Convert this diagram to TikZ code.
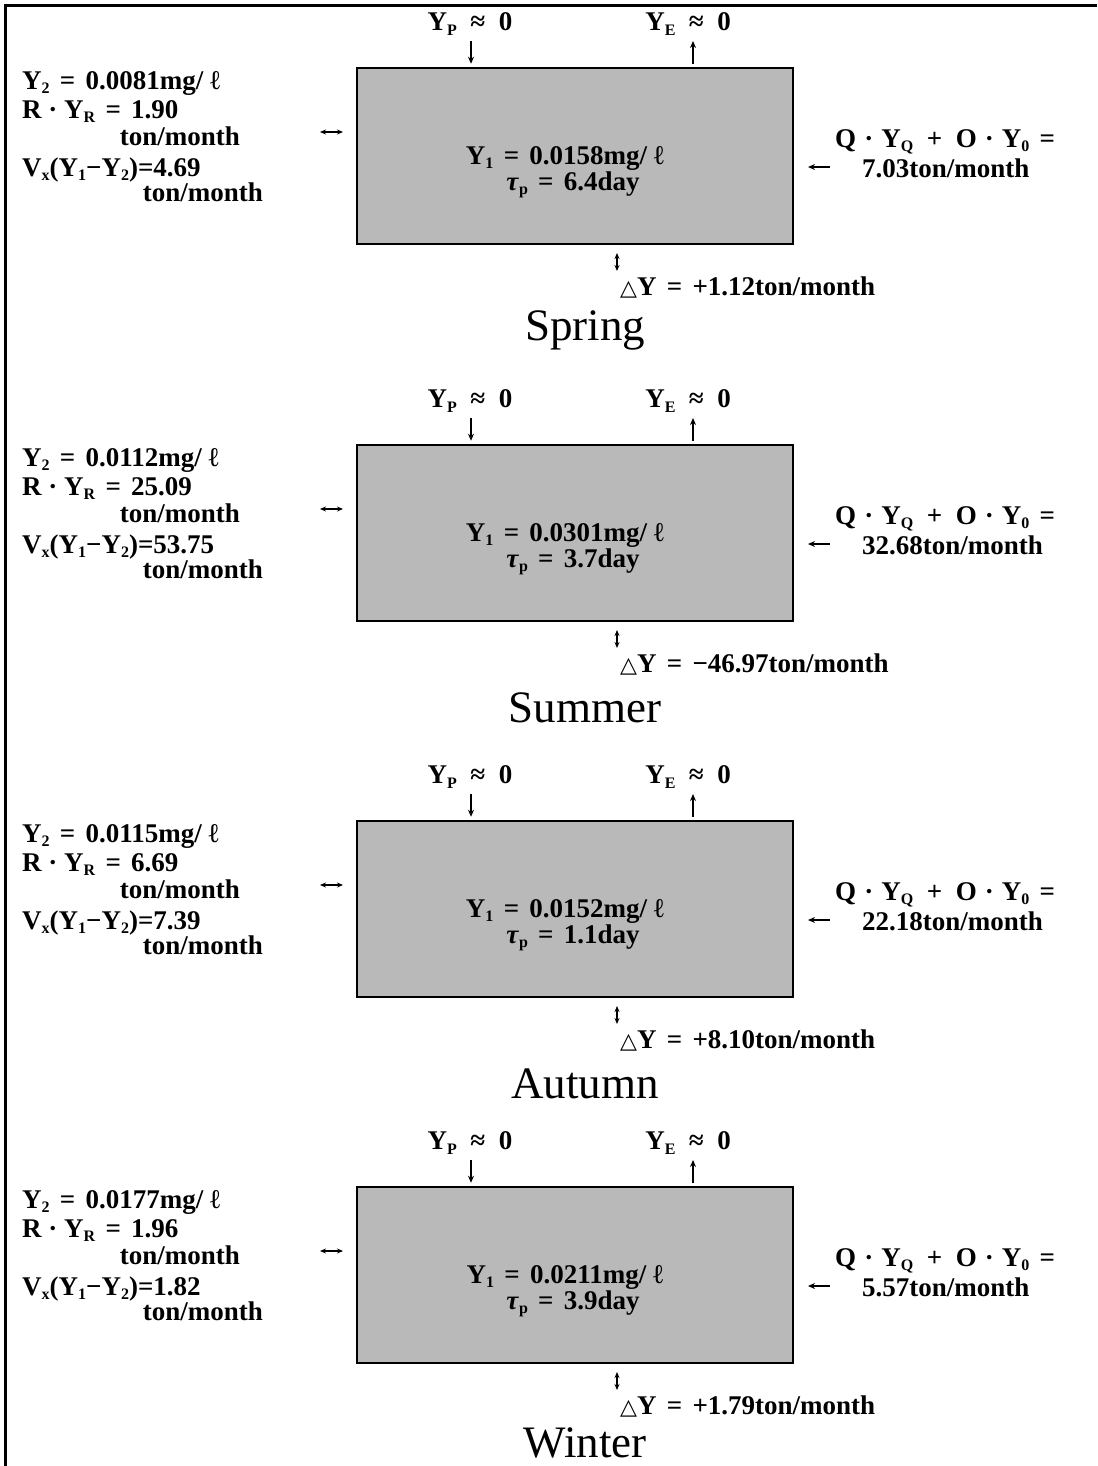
\documentclass[tikz,border=0pt]{standalone}
\usepackage{fontspec}
\setmainfont{Liberation Serif}
\newfontfamily\symf{DejaVu Sans}
\usetikzlibrary{arrows.meta}
\newcommand\sbs[1]{\raisebox{-0.15em}{\fontsize{16}{16}\selectfont #1}}
\newcommand\eqs{\hspace{0.38em}=\hspace{0.38em}}
\newcommand\dt{\hspace{0.3em}·\hspace{0.3em}}
\tikzset{
  lbl/.style={font=\fontsize{27}{27}\selectfont\bfseries, inner sep=0pt},
  ttl/.style={font=\fontsize{45}{45}\selectfont, inner sep=0pt},
  pool/.style={draw=black, line width=2.5pt, fill=gray!55, inner sep=0pt},
  arr/.style={line width=1.3pt, -{Stealth[length=7pt,width=6pt]}},
  darr/.style={line width=1.3pt, {Stealth[length=6pt,width=5pt]}-{Stealth[length=6pt,width=5pt]}},
  frame/.style={line width=3pt}
}
\begin{document}
\begin{tikzpicture}[x=1pt,y=-1pt]
\useasboundingbox (0,0) rectangle (1097,1466);
\draw[frame] (5,1466) -- (5,6) -- (1097,6);
\foreach \T/\nm/\ya/\rr/\vx/\yb/\tp/\q/\dy/\ttl/\ty in {
  68/sp/0.0081/1.90/4.69/0.0158/6.4/7.03/+1.12/Spring/262,
  445/su/0.0112/25.09/53.75/0.0301/3.7/32.68/−46.97/Summer/263,
  821/au/0.0115/6.69/7.39/0.0152/1.1/22.18/+8.10/Autumn/263,
  1187/wi/0.0177/1.96/1.82/0.0211/3.9/5.57/+1.79/Winter/256}{
  % box
  \node[pool, minimum width=436pt, minimum height=176pt] (box\nm) at (575,{\T+88}) {};
  \node[lbl] (y1\nm) at (565,{\T+90}) {Y\sbs{1}\eqs\yb mg/ ℓ};
  \node[lbl] (tp\nm) at (573,{\T+117}) {\textit{τ}\sbs{p}\eqs\tp day};
  % top
  \node[lbl] (yp\nm) at (470,{\T-44}) {Y\sbs{P}\enspace ≈\enspace 0};
  \node[lbl] (ye\nm) at (688,{\T-44}) {Y\sbs{E}\enspace ≈\enspace 0};
  \coordinate (pin\nm) at (471,{\T-27});
  \coordinate (eout\nm) at (693,{\T-27});
  \draw[arr, shorten >=3pt] (pin\nm) -- (pin\nm |- box\nm.north);
  \draw[arr, shorten <=3pt] (eout\nm |- box\nm.north) -- (eout\nm);
  % left
  \node[lbl, anchor=mid west] (l1\nm) at (22,{\T+19}) {Y\sbs{2}\eqs\ya mg/ ℓ};
  \node[lbl, anchor=mid west] (l2\nm) at (22,{\T+48}) {R · Y\sbs{R}\eqs\rr};
  \node[lbl, anchor=mid east] (l3\nm) at (240,{\T+75}) {ton/month};
  \node[lbl, anchor=mid west] (l4\nm) at (22,{\T+106}) {V\sbs{x}(Y\sbs{1}−Y\sbs{2})=\vx};
  \node[lbl, anchor=mid east] (l5\nm) at (263,{\T+131}) {ton/month};
  \coordinate (xa\nm) at (320,{\T+64});
  \coordinate (xb\nm) at (343,{\T+64});
  \draw[darr] (xa\nm) -- (xb\nm);
  % right
  \node[lbl, anchor=mid west] (r1\nm) at (835,{\T+77}) {Q\dt Y\sbs{Q}\enspace+\enspace O\dt Y\sbs{0}\eqs};
  \node[lbl, anchor=mid west] (r2\nm) at (862,{\T+107}) {\q ton/month};
  \coordinate (qa\nm) at (830,{\T+99});
  \coordinate (qb\nm) at (808,{\T+99});
  \draw[arr] (qa\nm) -- (qb\nm);
  % bottom
  \coordinate (da\nm) at (617,{\T+185});
  \coordinate (db\nm) at (617,{\T+203});
  \draw[darr] (da\nm) -- (db\nm);
  \node[lbl, anchor=mid west] (dy\nm) at (620,{\T+225}) {{\symf\fontsize{22}{22}\selectfont △}Y\eqs\dy ton/month};
  \node[ttl] (t\nm) at (585,{\T+\ty}) {\ttl};
}
\end{tikzpicture}
\end{document}
